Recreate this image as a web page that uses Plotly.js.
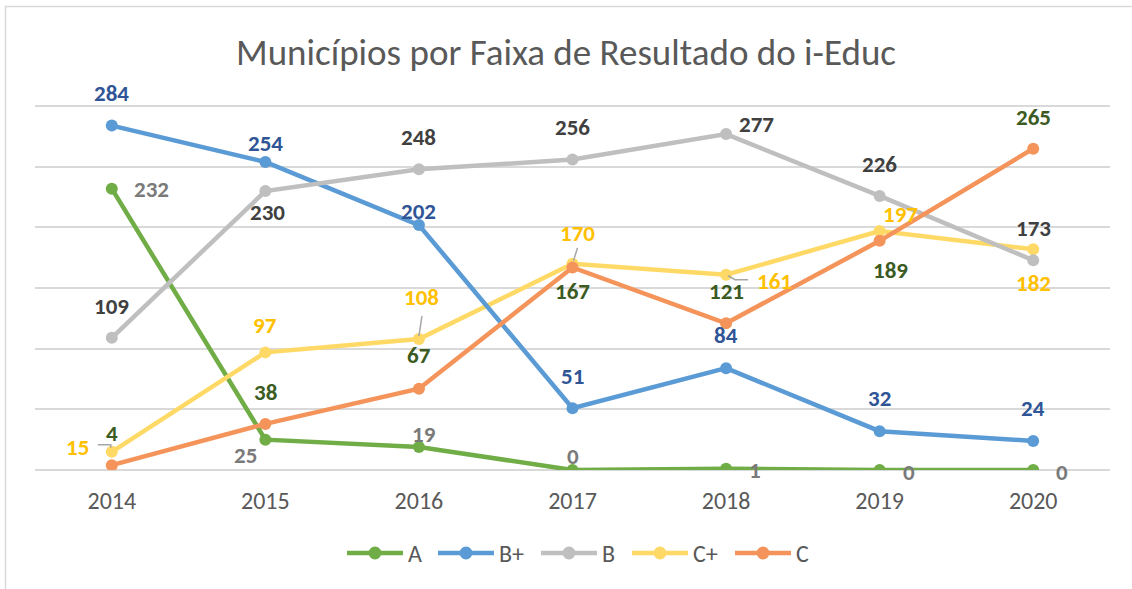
<!DOCTYPE html>
<html>
<head>
<meta charset="utf-8">
<script src="https://cdn.plot.ly/plotly-3.0.1.min.js"></script>
<style>
  html, body { margin: 0; padding: 0; background: #ffffff; }
  #chart { width: 1132px; height: 589px; }
</style>
</head>
<body>
<div id="chart"></div>
<script>
// ---- data ----
const years = ['2014', '2015', '2016', '2017', '2018', '2019', '2020'];
const seriesNames = ['A', 'B+', 'B', 'C+', 'C'];
const valuesA = [232, 25, 19, 0, 1, 0, 0];
const valuesBplus = [284, 254, 202, 51, 84, 32, 24];
const valuesB = [109, 230, 248, 256, 277, 226, 173];
const valuesCplus = [15, 97, 108, 170, 161, 197, 182];
const valuesC = [4, 38, 67, 167, 121, 189, 265];
const chartTitle = 'Municípios por Faixa de Resultado do i-Educ';

// ---- styles ----
const FONT = 'Carlito, Lato, "Open Sans", sans-serif';
const lineColors = ['#70ad47', '#5b9bd5', '#bfbfbf', '#ffd966', '#f4945a'];
const labelColors = ['#7a7a7a', '#2f5597', '#404040', '#ffc000', '#3b5b22'];
// label offsets in pixels [dx, dy] (dy positive = downward on screen)
const labelOffsets = [
  [[40, 0], [-20, 15], [5, -13], [0, -14], [29, 1], [29, 2], [29, 2]],
  [[0, -33], [0, -19], [0, -14], [0, -32], [0, -33], [0, -33], [0, -33]],
  [[0, -32], [2, 21], [0, -32], [0, -33], [30, -10], [0, -32], [0, -32]],
  [[-34, -5], [0, -27], [3, -42], [5, -31], [48, 6], [21, -17], [0, 34]],
  [[0, -32], [0, -32], [0, -34], [0, 24], [0, -32], [11, 29], [0, -32]]
];
// drawing order (bottom to top), by series index
const drawOrder = [0, 3, 1, 2, 4];
// custom legend layout (pixel x of line start, line length), y pixel
const legendLineStarts = [347, 438, 541, 632, 735];
const legendLineLen = 56;
const legendY = 553;
const PLOT_L = 35, PLOT_W = 1075, PLOT_BOTTOM = 470, PLOT_H = 365;
const px2paperX = p => (p - PLOT_L) / PLOT_W;
const px2paperY = p => (PLOT_BOTTOM - p) / PLOT_H;

const allValues = [valuesA, valuesBplus, valuesB, valuesCplus, valuesC];

const traces = drawOrder.map(i => ({
  type: 'scatter',
  mode: 'lines+markers',
  name: seriesNames[i],
  x: years,
  y: allValues[i],
  line: { color: lineColors[i], width: 4.5 },
  marker: { color: lineColors[i], size: 12 },
  showlegend: false,
  hoverinfo: 'x+y+name'
}));

const annotations = [];
allValues.forEach((vals, i) => {
  vals.forEach((v, j) => {
    annotations.push({
      x: j, y: v, xref: 'x', yref: 'y',
      text: '<b>' + v + '</b>', showarrow: false,
      xanchor: 'center', yanchor: 'middle',
      xshift: labelOffsets[i][j][0], yshift: -labelOffsets[i][j][1],
      font: { family: FONT, size: 23, color: labelColors[i] }
    });
  });
});

const shapes = [];
// leader lines for some labels (pixel paths anchored at data points)
const leaders = [
  { x: 0, y: valuesCplus[0], path: 'M-14,7 L-1,7 L-1,4' },
  { x: 2, y: valuesCplus[2], path: 'M3,23 L0,3' },
  { x: 3, y: valuesCplus[3], path: 'M5,16 L1,3' },
  { x: 4, y: valuesCplus[4], path: 'M2,-1 L9,-5 L22,-5' }
];
leaders.forEach(l => shapes.push({
  type: 'path', xref: 'x', yref: 'y',
  xsizemode: 'pixel', ysizemode: 'pixel',
  xanchor: l.x, yanchor: l.y, path: l.path,
  line: { color: '#a6a6a6', width: 1.5 }, layer: 'above'
}));

// custom legend
seriesNames.forEach((name, i) => {
  const x0 = legendLineStarts[i];
  const yP = px2paperY(legendY);
  shapes.push({
    type: 'line', xref: 'paper', yref: 'paper',
    x0: px2paperX(x0), x1: px2paperX(x0 + legendLineLen), y0: yP, y1: yP,
    line: { color: lineColors[i], width: 4.5 }
  });
  shapes.push({
    type: 'circle', xref: 'paper', yref: 'paper',
    xsizemode: 'pixel', ysizemode: 'pixel',
    xanchor: px2paperX(x0 + legendLineLen / 2), yanchor: yP,
    x0: -6.5, x1: 6.5, y0: -6.5, y1: 6.5,
    fillcolor: lineColors[i], line: { width: 0 }
  });
  annotations.push({
    xref: 'paper', yref: 'paper',
    x: px2paperX(x0 + legendLineLen + 3), y: yP,
    xanchor: 'left', yanchor: 'middle', showarrow: false,
    text: name, font: { family: FONT, size: 24, color: '#595959' }
  });
});

// chart border
shapes.push({
  type: 'rect', xref: 'paper', yref: 'paper',
  x0: px2paperX(5.5), x1: px2paperX(1140), y0: px2paperY(600), y1: px2paperY(6.5),
  line: { color: '#d9d9d9', width: 1.5 }, layer: 'below'
});

const layout = {
  width: 1132, height: 589,
  margin: { l: PLOT_L, r: 1132 - PLOT_L - PLOT_W, t: 105, b: 589 - PLOT_BOTTOM },
  paper_bgcolor: '#ffffff', plot_bgcolor: '#ffffff',
  font: { family: FONT, color: '#595959' },
  title: {
    text: chartTitle,
    font: { family: FONT, size: 37, color: '#595959' },
    x: 0.5, xanchor: 'center', y: 0.912, yanchor: 'middle'
  },
  xaxis: {
    type: 'category', range: [-0.5, 6.5],
    showgrid: false, showline: false, zeroline: false, ticks: '',
    tickfont: { family: FONT, size: 24, color: '#595959' },
    ticklabelstandoff: 14, fixedrange: true
  },
  yaxis: {
    range: [0, 301], dtick: 50, tick0: 0,
    showticklabels: false, ticks: '',
    showgrid: true, gridcolor: '#d9d9d9', gridwidth: 2,
    zeroline: true, zerolinecolor: '#d9d9d9', zerolinewidth: 2,
    showline: false, fixedrange: true
  },
  showlegend: false,
  annotations: annotations,
  shapes: shapes
};

Plotly.newPlot('chart', traces, layout, { displayModeBar: false });
</script>
</body>
</html>
